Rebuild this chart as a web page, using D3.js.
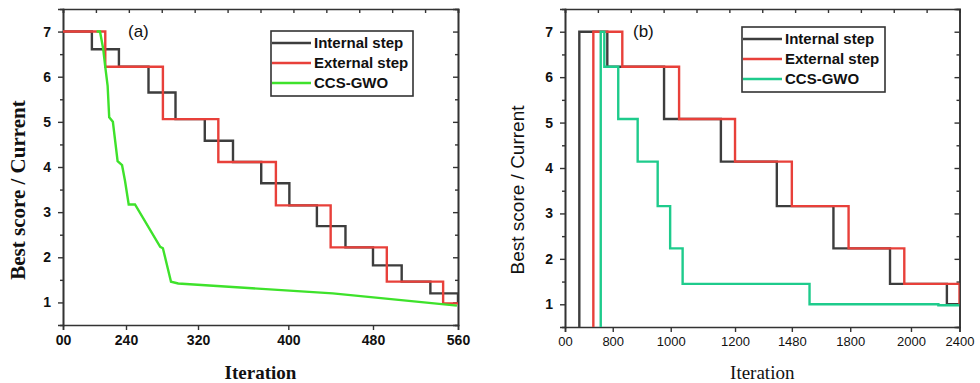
<!DOCTYPE html>
<html>
<head>
<meta charset="utf-8">
<script src="https://cdn.jsdelivr.net/npm/d3@7"></script>
<style>
	body { margin: 0; background: #fff; }
</style>
</head>
<body>
<div id="chart"></div>
<script>

// y axis ticks, shared by both panels
var scoreTicks = [1, 2, 3, 4, 5, 6, 7];
var scoreMinor = [1.5, 2.5, 3.5, 4.5, 5.5, 6.5];

// panel (a) iteration ticks as printed
var iterTicksA = [0, 240, 320, 400, 480, 560];
var iterLabelsA = ["00", "240", "320", "400", "480", "560"];

// panel (b) iteration ticks as printed
var iterTicksB = [0, 800, 1000, 1200, 1480, 1800, 2000, 2400];
var iterLabelsB = ["00", "800", "1000", "1200", "1480", "1800", "2000", "2400"];

var seriesNames = ["Internal step", "External step", "CCS-GWO"];

// panel (a) series: iteration where a value starts, and the value
var internalIterA = [0, 110, 213, 265, 295, 326, 351, 376, 401, 427, 454, 480, 507, 534, 560];
var internalScoreA = [7, 6.61, 6.22, 5.65, 5.06, 4.58, 4.11, 3.64, 3.15, 2.69, 2.22, 1.82, 1.46, 1.20, 0.98];
var externalIterA = [0, 161, 281, 338, 389, 440, 493, 546, 560];
var externalScoreA = [7, 6.22, 5.06, 4.11, 3.15, 2.22, 1.46, 0.98, 0.98];
var ccsIterA = [128, 141, 153, 161, 170, 176, 190, 208, 225, 236, 243, 250, 278, 281, 290, 298, 442, 559];
var ccsScoreA = [7, 7, 6.62, 6.22, 5.80, 5.10, 5.00, 4.13, 4.04, 3.70, 3.17, 3.17, 2.23, 2.20, 1.46, 1.42, 1.20, 0.93];

// panel (b) series
var internalIterB = [240, 240, 709, 977, 1156, 1406, 1708, 1931, 2296, 2400];
var internalScoreB = [0, 7, 6.23, 5.08, 4.14, 3.16, 2.23, 1.45, 1.0, 1.0];
var externalIterB = [475, 475, 833, 1026, 1200, 1480, 1791, 1978, 2400];
var externalScoreB = [0, 7, 6.23, 5.08, 4.14, 3.16, 2.23, 1.45, 1.0];
var ccsIterB = [599, 599, 659, 819, 886, 955, 998, 1037, 1577, 2226, 2400];
var ccsScoreB = [0, 7, 6.23, 5.08, 4.14, 3.16, 2.23, 1.45, 1.0, 0.98, 0.98];

// the printed iteration axes are not evenly spaced: share of the width for each tick
var tickShareA = [0, 0.1595, 0.3418, 0.5704, 0.7848, 1];
var tickShareB = [0, 0.121, 0.268, 0.431, 0.575, 0.723, 0.877, 1];

var svg = d3.select("#chart").append("svg")
	.attr("width", 980)
	.attr("height", 383);

/**
 * zip two arrays into [x, y] pairs
 */
function pairs(xs, ys)
{
	return xs.map(function (v, i) { return [v, ys[i]]; });
}

/**
 * draws one panel of the figure
 */
function drawPanel(p)
{
	var w = p.right - p.left;
	var h = p.bottom - p.top;

	var g = svg.append("g")
		.attr("transform", "translate(" + p.left + "," + p.top + ")");

	// piecewise scale so every printed tick lands where it was drawn
	var x = d3.scaleLinear()
		.domain(p.ticks)
		.range(p.share.map(function (s) { return s * w; }));
	var y = d3.scaleLinear().domain([0.5, 7.5]).range([h, 0]);

	// clip the curves to the frame
	g.append("clipPath").attr("id", p.id + "-clip")
		.append("rect").attr("width", w).attr("height", h);

	// frame ticks: bottom with labels
	var bottom = g.append("g")
		.attr("transform", "translate(0," + h + ")")
		.call(d3.axisBottom(x).tickValues(p.ticks)
			.tickFormat(function (d, i) { return p.labels[i]; })
			.tickSize(5).tickPadding(5));
	bottom.selectAll("text")
		.attr("font-family", "Liberation Sans, Arial, sans-serif")
		.attr("font-size", p.xFont)
		.attr("font-weight", p.xWeight)
		.attr("fill", "#111");

	// top: evenly spaced inward ticks, no labels
	var topScale = d3.scaleLinear().domain([0, 12]).range([0, w]);
	g.append("g")
		.call(d3.axisTop(topScale).ticks(12).tickSize(-4).tickFormat(""));

	// left with labels plus minor ticks
	var left = g.append("g")
		.call(d3.axisLeft(y).tickValues(scoreTicks).tickFormat(d3.format("d"))
			.tickSize(5).tickPadding(7));
	left.selectAll("text")
		.attr("font-family", "Liberation Sans, Arial, sans-serif")
		.attr("font-size", 14)
		.attr("font-weight", "bold")
		.attr("fill", "#111");
	g.append("g")
		.call(d3.axisLeft(y).tickValues(scoreMinor).tickSize(3).tickFormat(""));

	// right side mirrors the left, inward
	g.append("g").attr("transform", "translate(" + w + ",0)")
		.call(d3.axisRight(y).tickValues(scoreTicks).tickSize(-5).tickFormat(""));
	g.append("g").attr("transform", "translate(" + w + ",0)")
		.call(d3.axisRight(y).tickValues(scoreMinor).tickSize(-3).tickFormat(""));

	// colour and weight of all frame lines
	g.selectAll(".domain").attr("stroke", "#333").attr("stroke-width", 1.6);
	g.selectAll(".tick line").attr("stroke", "#333").attr("stroke-width", 1.4);

	// the curves
	var lines = g.append("g").attr("clip-path", "url(#" + p.id + "-clip)");
	p.series.forEach(function (s)
	{
		var gen = d3.line()
			.x(function (d) { return x(d[0]); })
			.y(function (d) { return y(d[1]); })
			.curve(s.step ? d3.curveStepAfter : d3.curveLinear);
		lines.append("path")
			.attr("d", gen(pairs(s.iter, s.score)))
			.attr("fill", "none")
			.attr("stroke", s.color)
			.attr("stroke-width", 2.4);
	});

	// panel letter
	g.append("text")
		.attr("x", p.letterX)
		.attr("y", 28)
		.attr("font-family", "Liberation Sans, Arial, sans-serif")
		.attr("font-size", 17)
		.attr("fill", "#111")
		.text(p.letter);

	// legend
	var lg = svg.append("g").attr("transform", "translate(" + p.legend[0] + "," + p.legend[1] + ")");
	lg.append("rect")
		.attr("width", p.legend[2]).attr("height", 65)
		.attr("fill", "#fff").attr("stroke", "#333").attr("stroke-width", 1.6);
	p.series.forEach(function (s, i)
	{
		var yy = 12 + i * 20;
		lg.append("line")
			.attr("x1", 1).attr("x2", 40)
			.attr("y1", yy).attr("y2", yy)
			.attr("stroke", s.color).attr("stroke-width", 2.6);
		lg.append("text")
			.attr("x", 43).attr("y", yy)
			.attr("dy", "0.36em")
			.attr("font-family", "Liberation Sans, Arial, sans-serif")
			.attr("font-size", 15)
			.attr("font-weight", "bold")
			.attr("fill", "#111")
			.text(seriesNames[i]);
	});

	// axis titles
	svg.append("text")
		.attr("x", p.left + w / 2)
		.attr("y", 379)
		.attr("text-anchor", "middle")
		.attr("font-family", "Liberation Serif, Times New Roman, serif")
		.attr("font-size", 19)
		.attr("font-weight", p.titleWeight)
		.attr("fill", "#111")
		.text("Iteration");

	svg.append("text")
		.attr("transform", "translate(" + p.yTitleX + ",190) rotate(-90)")
		.attr("text-anchor", "middle")
		.attr("font-family", p.yTitleFont)
		.attr("font-size", p.yTitleSize)
		.attr("font-weight", p.titleWeight)
		.attr("fill", "#111")
		.text("Best score / Current");
}

drawPanel({
	id: "pa", left: 63, right: 458, top: 9, bottom: 325,
	ticks: iterTicksA, labels: iterLabelsA, share: tickShareA,
	xFont: 14, xWeight: "bold", titleWeight: "bold",
	letter: "(a)", letterX: 65,
	legend: [271, 31, 142],
	yTitleX: 25, yTitleSize: 21, yTitleFont: "Liberation Serif, Times New Roman, serif",
	series: [
		{ iter: internalIterA, score: internalScoreA, color: "#3d3d3d", step: true },
		{ iter: externalIterA, score: externalScoreA, color: "#e8403a", step: true },
		{ iter: ccsIterA, score: ccsScoreA, color: "#3ee22b", step: false }
	]
});

drawPanel({
	id: "pb", left: 565, right: 959.5, top: 9, bottom: 327,
	ticks: iterTicksB, labels: iterLabelsB, share: tickShareB,
	xFont: 13, xWeight: "normal", titleWeight: "normal",
	letter: "(b)", letterX: 68,
	legend: [742, 27, 143],
	yTitleX: 524, yTitleSize: 19, yTitleFont: "Liberation Sans, Arial, sans-serif",
	series: [
		{ iter: internalIterB, score: internalScoreB, color: "#3d3d3d", step: true },
		{ iter: externalIterB, score: externalScoreB, color: "#e8403a", step: true },
		{ iter: ccsIterB, score: ccsScoreB, color: "#1ecb8c", step: true }
	]
});

</script>
</body>
</html>
